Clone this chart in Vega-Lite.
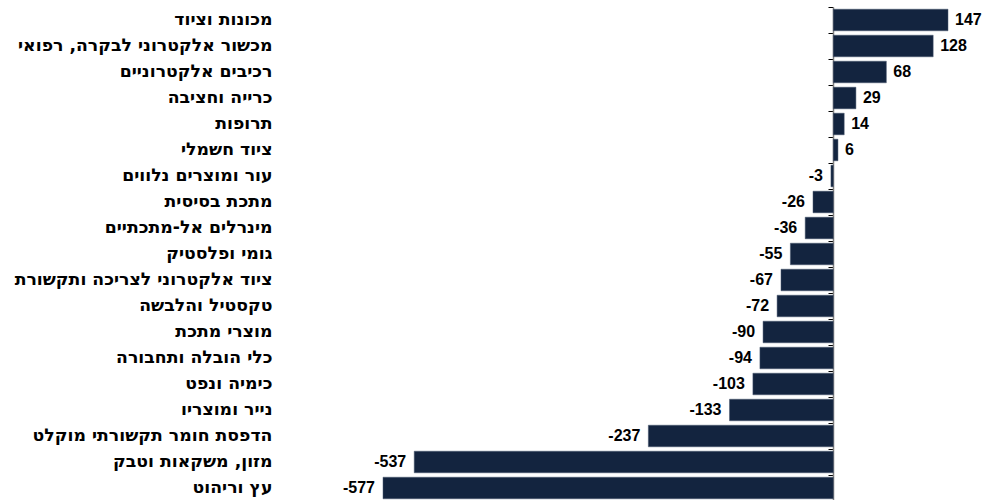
{
  "$schema": "https://vega.github.io/schema/vega-lite/v6.json",
  "autosize": "none",
  "padding": {"left": 383, "top": 7, "right": 35, "bottom": 0},
  "width": 565,
  "height": 494,
  "background": "white",
  "config": {"view": {"stroke": null}},
  "data": {"values": [
    {"name": "מכונות וציוד", "v": 147},
    {"name": "מכשור אלקטרוני לבקרה, רפואי", "v": 128},
    {"name": "רכיבים אלקטרוניים", "v": 68},
    {"name": "כרייה וחציבה", "v": 29},
    {"name": "תרופות", "v": 14},
    {"name": "ציוד חשמלי", "v": 6},
    {"name": "עור ומוצרים נלווים", "v": -3},
    {"name": "מתכת בסיסית", "v": -26},
    {"name": "מינרלים אל-מתכתיים", "v": -36},
    {"name": "גומי ופלסטיק", "v": -55},
    {"name": "ציוד אלקטרוני לצריכה ותקשורת", "v": -67},
    {"name": "טקסטיל והלבשה", "v": -72},
    {"name": "מוצרי מתכת", "v": -90},
    {"name": "כלי הובלה ותחבורה", "v": -94},
    {"name": "כימיה ונפט", "v": -103},
    {"name": "נייר ומוצריו", "v": -133},
    {"name": "הדפסת חומר תקשורתי מוקלט", "v": -237},
    {"name": "מזון, משקאות וטבק", "v": -537},
    {"name": "עץ וריהוט", "v": -577}
  ]},
  "resolve": {"axis": {"y": "independent"}},
  "layer": [
    {
      "mark": {"type": "bar", "color": "#13243f", "stroke": "#4a5870", "strokeWidth": 0.5},
      "encoding": {
        "y": {"field": "name", "type": "nominal", "sort": null,
          "scale": {"paddingInner": 0.17, "paddingOuter": 0.085},
          "axis": {"orient": "left", "title": null, "ticks": false, "tickSize": 0, "domain": false,
            "labelPadding": 111, "labelFont": "DejaVu Sans", "labelFontWeight": "bold",
            "labelFontSize": 17.3, "labelColor": "#000000", "labelLimit": 400}},
        "x": {"field": "v", "type": "quantitative",
          "scale": {"domain": [-577, 147], "nice": false}, "axis": null}
      }
    },
    {
      "mark": {"type": "text", "font": "Liberation Sans", "fontWeight": "bold", "fontSize": 16,
        "color": "#000000", "baseline": "middle",
        "align": {"expr": "datum.v < 0 ? 'right' : 'left'"},
        "dx": {"expr": "datum.v < 0 ? -8 : 7"}},
      "encoding": {
        "y": {"field": "name", "type": "nominal", "sort": null,
          "axis": {"orient": "left", "offset": -450, "title": null, "labels": false,
            "domain": true, "domainColor": "#7f7f7f", "domainWidth": 1.5,
            "ticks": true, "tickColor": "#000000", "tickSize": 5, "tickWidth": 1, "bandPosition": -0.1024}},
        "x": {"field": "v", "type": "quantitative"},
        "text": {"field": "v", "type": "nominal"}
      }
    }
  ]
}
